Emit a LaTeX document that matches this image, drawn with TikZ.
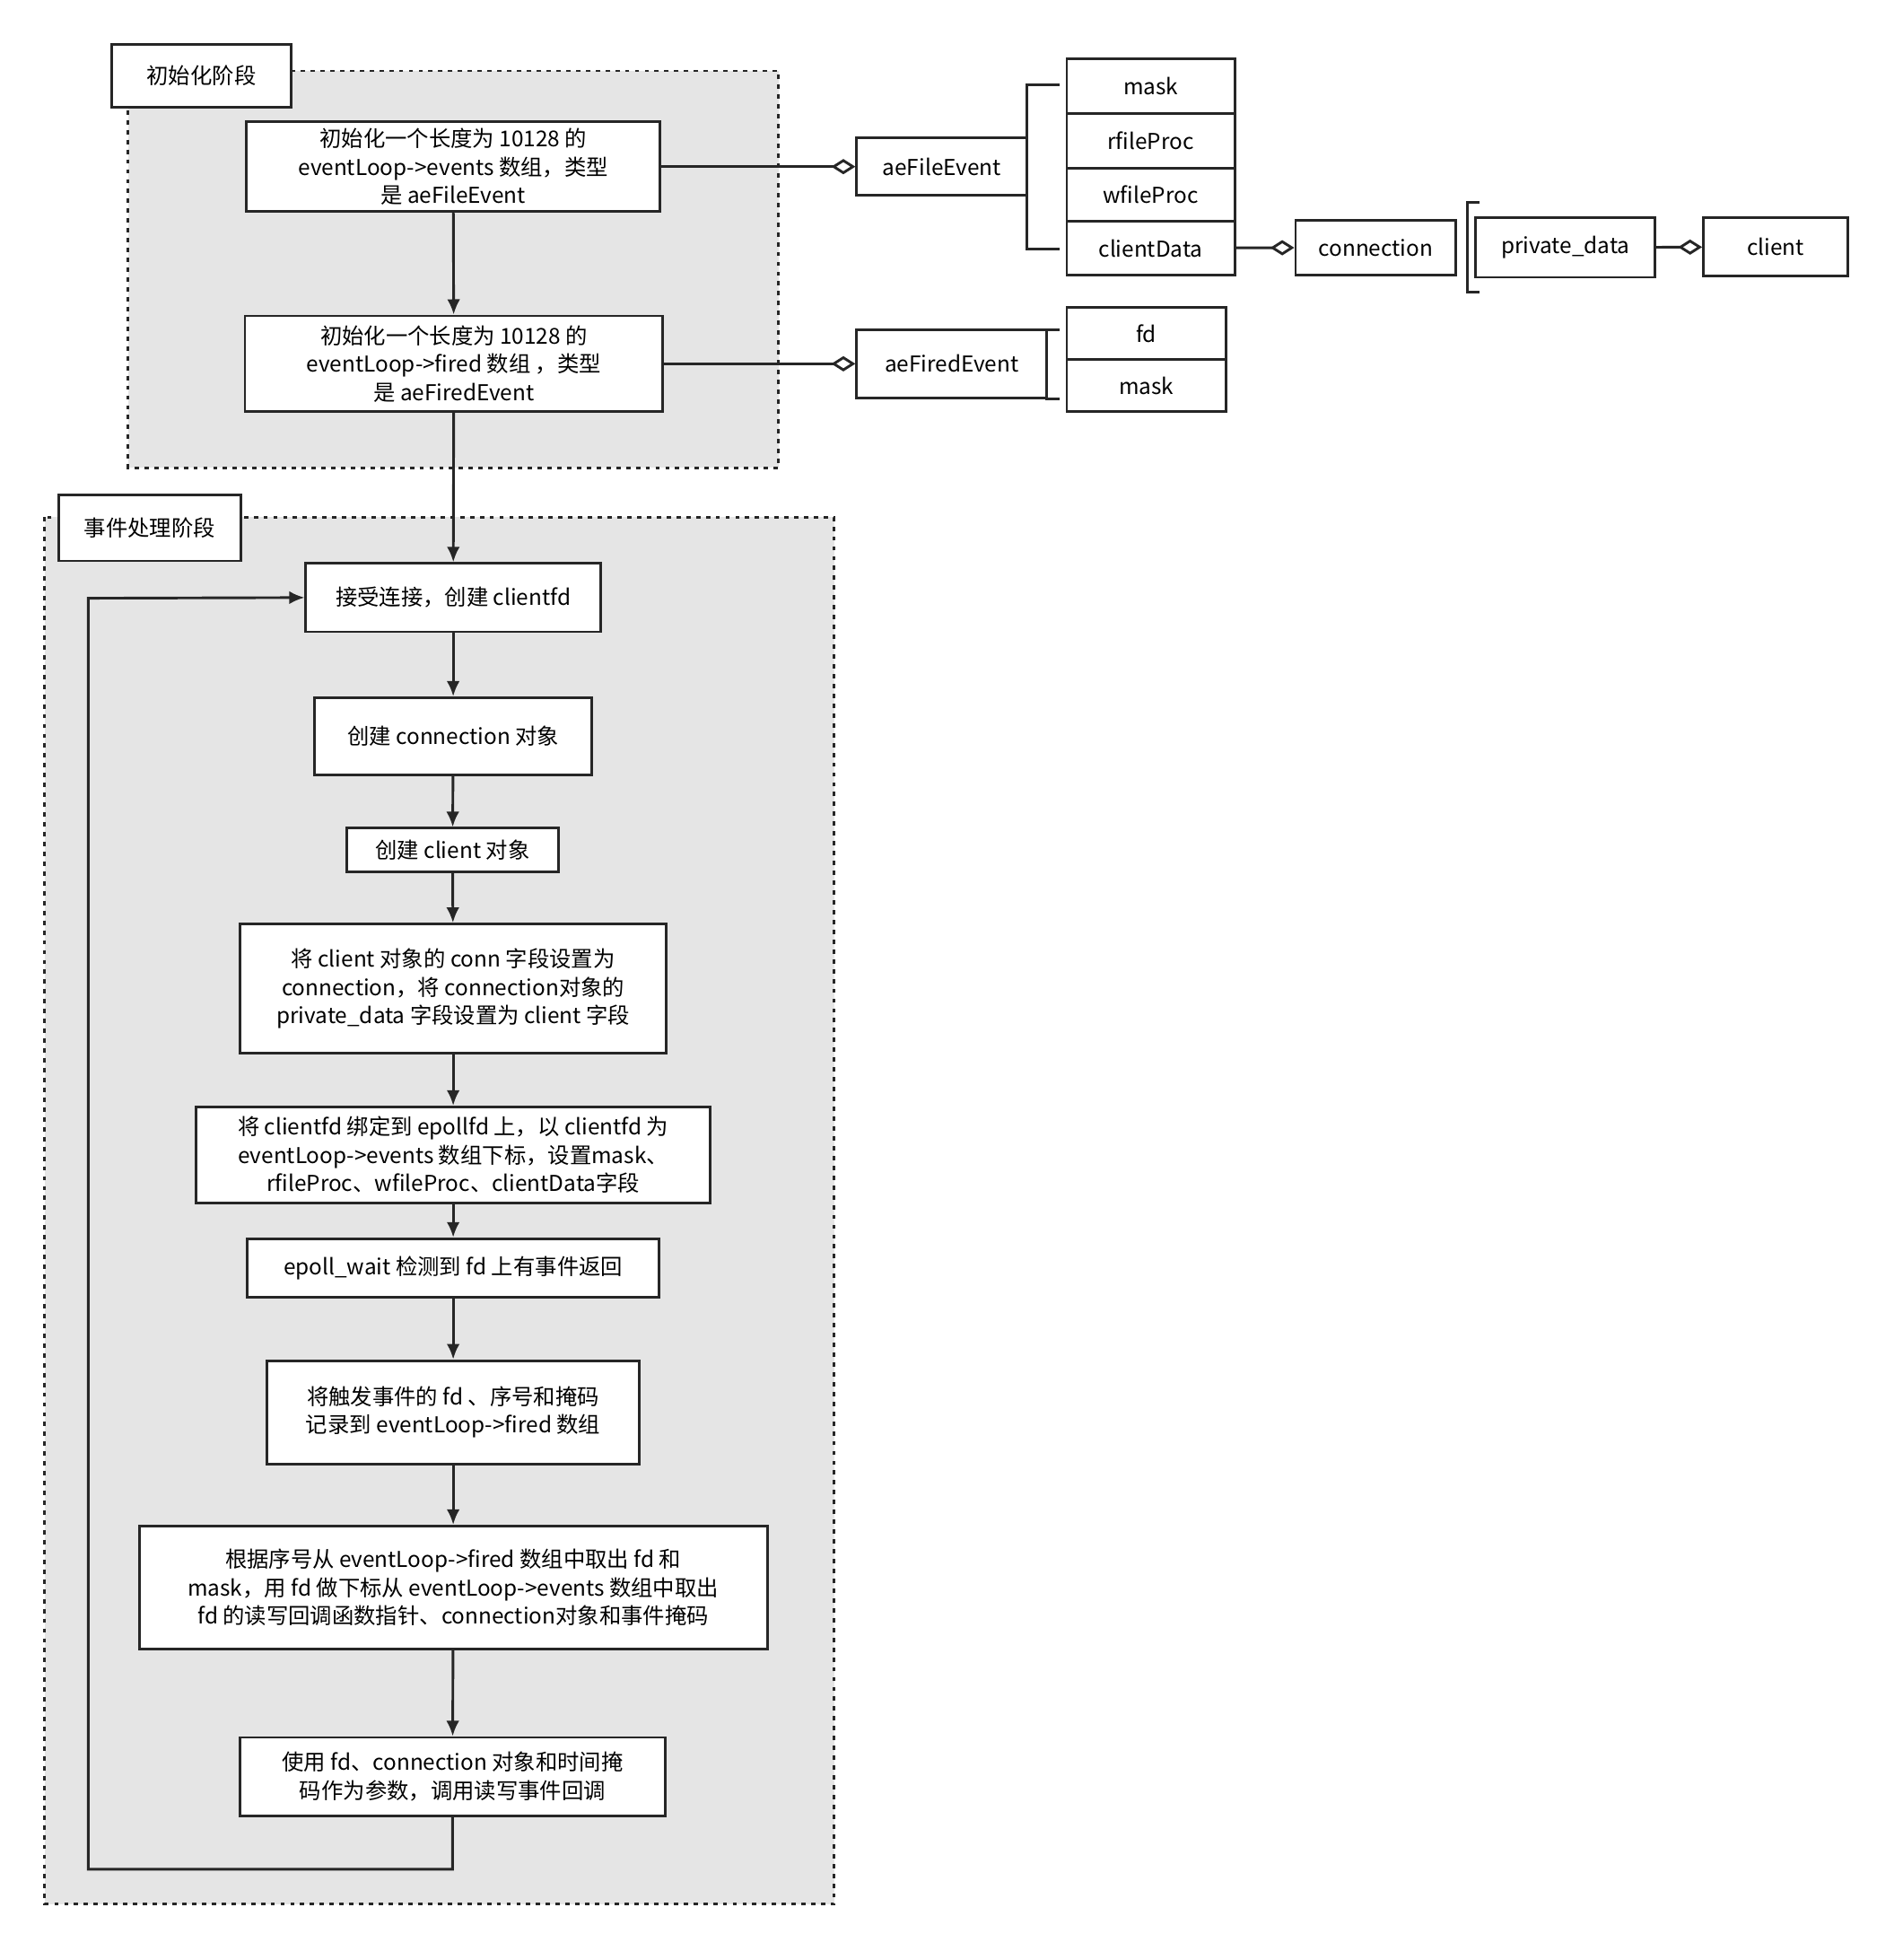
\documentclass[tikz,border=0pt]{standalone}
\usepackage{fontspec}
\setmainfont{Noto Sans CJK SC}
\usetikzlibrary{arrows.meta,positioning}

\newcommand{\px}{0.02cm}
\tikzset{
  box/.style={draw=black!85,line width=1.2pt,fill=white,align=center,inner sep=2pt,
    font=\fontsize{10}{13}\selectfont},
  region/.style={draw=black!85,line width=1.2pt,dash pattern=on 2pt off 2.5pt,fill=black!10},
  flow/.style={-{Latex[length=7pt,width=6pt]},line width=1.2pt,draw=black!85},
  agg/.style={-{Diamond[open,length=11pt,width=7pt]},line width=1.2pt,draw=black!85},
  brk/.style={line width=1.2pt,draw=black!85},
}

\begin{document}
\begin{tikzpicture}[x=0.02cm,y=-0.02cm]
  \useasboundingbox (0,0) rectangle (1530,1576);
  % regions
  \draw[region] (103,57) rectangle (626,376);
  \draw[region] (36,416) rectangle (671,1531);
  \node[box,minimum width=144*\px,minimum height=50*\px] (initlabel) at (162,61) {初始化阶段};
  \node[box,minimum width=147*\px,minimum height=53*\px] (looplabel) at (120.5,424.5) {事件处理阶段};

  % init stage
  \node[box,minimum width=333*\px,minimum height=72*\px] (fileev) at (364.5,134) {初始化一个长度为 10128 的\\eventLoop->events 数组，类型\\是 aeFileEvent};
  \node[box,minimum width=336*\px,minimum height=77*\px] (firedev) at (365,292.5) {初始化一个长度为 10128 的\\eventLoop->fired 数组 ，类型\\是 aeFiredEvent};

  % event stage
  \node[box,minimum width=237*\px,minimum height=55*\px] (accept) at (364.5,480.5) {接受连接，创建 clientfd};
  \node[box,minimum width=223*\px,minimum height=62*\px] (mkconn) at (364.5,592) {创建 connection 对象};
  \node[box,minimum width=170*\px,minimum height=35*\px] (mkclient) at (364,683.5) {创建 client 对象};
  \node[box,minimum width=343*\px,minimum height=104*\px] (link) at (364.5,795) {将 client 对象的 conn 字段设置为\\connection，将 connection对象的\\private\_data 字段设置为 client 字段};
  \node[box,minimum width=413*\px,minimum height=77*\px] (bind) at (364.5,928.5) {将 clientfd 绑定到 epollfd 上，以 clientfd 为\\eventLoop->events 数组下标，设置mask、\\rfileProc、wfileProc、clientData字段};
  \node[box,minimum width=331*\px,minimum height=47*\px] (wait) at (364.5,1019.5) {epoll\_wait 检测到 fd 上有事件返回};
  \node[box,minimum width=299*\px,minimum height=83*\px] (record) at (364.5,1135.5) {将触发事件的 fd 、序号和掩码\\记录到 eventLoop->fired 数组};
  \node[box,minimum width=505*\px,minimum height=99*\px] (fetch) at (364.5,1276.5) {根据序号从 eventLoop->fired 数组中取出 fd 和\\mask，用 fd 做下标从 eventLoop->events 数组中取出\\fd 的读写回调函数指针、connection对象和事件掩码};
  \node[box,minimum width=342*\px,minimum height=63*\px] (call) at (364,1428.5) {使用 fd、connection 对象和时间掩\\码作为参数，调用读写事件回调};

  \draw[flow] (fileev) -- (firedev);
  \draw[flow] (firedev) -- (accept);
  \draw[flow] (accept) -- (mkconn);
  \draw[flow] (mkconn) -- (mkclient);
  \draw[flow] (mkclient) -- (link);
  \draw[flow] (link) -- (bind);
  \draw[flow] (bind) -- (wait);
  \draw[flow] (wait) -- (record);
  \draw[flow] (record) -- (fetch);
  \draw[flow] (fetch) -- (call);
  \draw[flow] (call.south) -- ++(0,42) -| (71,481) -- (accept.west);

  % structures
  \node[box,minimum width=137*\px,minimum height=46*\px] (aefile) at (757.5,134) {aeFileEvent};
  \node[box,minimum width=135*\px,minimum height=44*\px] (fmask) at (925.5,69) {mask};
  \node[box,minimum width=135*\px,minimum height=44*\px] (frproc) at (925.5,113) {rfileProc};
  \node[box,minimum width=135*\px,minimum height=43*\px] (fwproc) at (925.5,156.5) {wfileProc};
  \node[box,minimum width=135*\px,minimum height=43*\px] (fcdata) at (925.5,199.5) {clientData};
  \node[box,minimum width=129*\px,minimum height=44*\px] (conn) at (1106.5,199) {connection};
  \node[box,minimum width=144*\px,minimum height=48*\px] (pdata) at (1259,199) {private\_data};
  \node[box,minimum width=116*\px,minimum height=47*\px] (client) at (1428,198.5) {client};
  \node[box,minimum width=153*\px,minimum height=55*\px] (aefired) at (765.5,292.5) {aeFiredEvent};
  \node[box,minimum width=128*\px,minimum height=42*\px] (dfd) at (922,268) {fd};
  \node[box,minimum width=128*\px,minimum height=42*\px] (dmask) at (922,310) {mask};

  \draw[brk] (852,68) -- (826,68) -- (826,200) -- (852,200);
  \draw[brk] (1190,163) -- (1180,163) -- (1180,235) -- (1190,235);
  \draw[brk] (852,265) -- (842,265) -- (842,321) -- (852,321);

  \draw[agg] (fileev) -- (aefile);
  \draw[agg] (firedev) -- (aefired);
  \draw[agg] (fcdata) -- (conn);
  \draw[agg] (pdata) -- (client);
\end{tikzpicture}
\end{document}
